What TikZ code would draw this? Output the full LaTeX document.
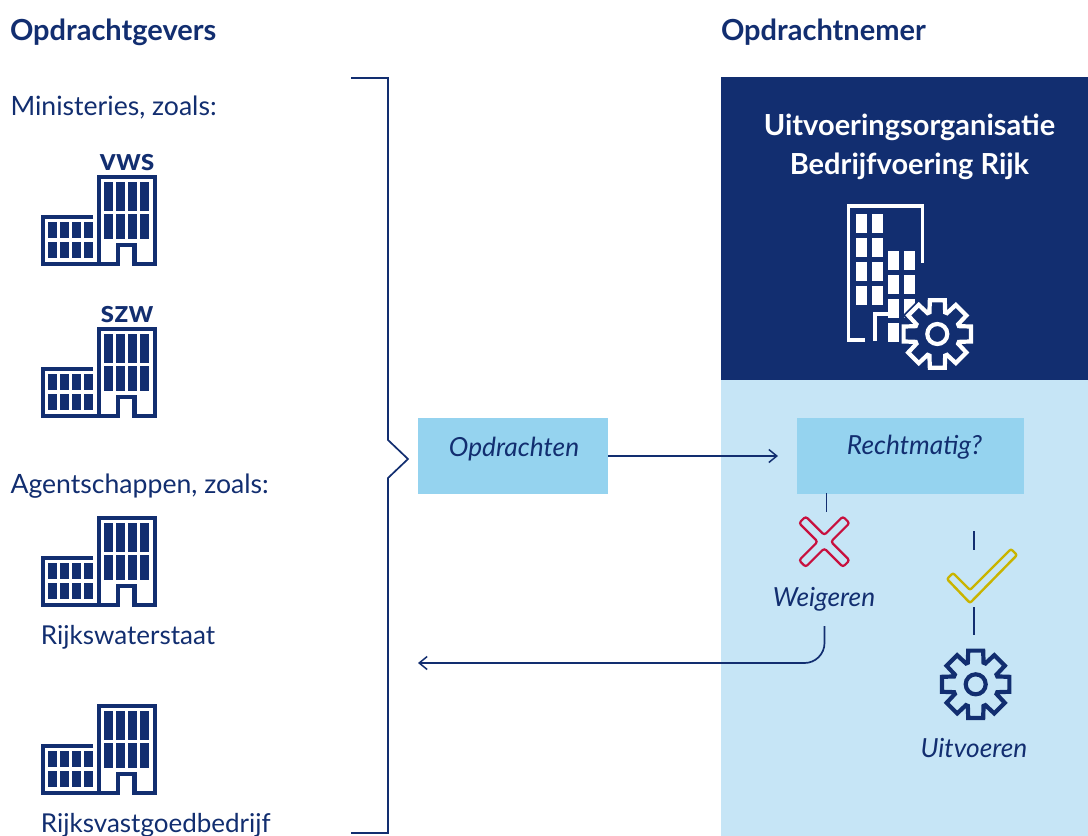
\documentclass[tikz,border=0pt]{standalone}
\usepackage{fontspec}
\setmainfont{Lato}
\definecolor{navy}{HTML}{122E70}
\definecolor{panel}{HTML}{C6E5F6}
\definecolor{boxblue}{HTML}{95D3EF}
\definecolor{crossred}{HTML}{C8103E}
\definecolor{checkyellow}{HTML}{C9B400}
\usetikzlibrary{arrows.meta}
\tikzset{
  lab/.style={inner sep=0pt,outer sep=0pt,text=navy,anchor=base west},
  head/.style={lab,font=\fontsize{29}{32}\selectfont\bfseries},
  body/.style={lab,font=\fontsize{26.6}{30}\selectfont},
  small/.style={lab,font=\fontsize{26}{30}\selectfont},
  ital/.style={inner sep=0pt,text=navy,anchor=base,font=\fontsize{26.3}{30}\selectfont\itshape},
  acro/.style={inner sep=0pt,text=navy,anchor=base,font=\fontsize{31}{32}\selectfont\bfseries},
  conn/.style={draw=navy,line width=1.7pt},
  arrow/.style={conn,-{Straight Barb[length=8pt,width=13pt,line width=1.5pt]}},
  boxn/.style={fill=boxblue,inner sep=0pt,outer sep=0pt,anchor=north west},
  bline/.style={draw=navy,line width=4.2pt,line cap=butt,line join=miter},
  win/.style={fill=navy},
}
% building icon, drawn at the position of the first one; #1 = y shift
\newcommand{\officeicon}[1]{%
  \begin{scope}[yshift=#1*-1pt]
    \draw[bline] (93,216.7) -- (42.7,216.7) -- (42.7,264.3) -- (117.7,264.3) -- (117.7,244.7) -- (134.5,244.7) -- (134.5,264.3) -- (155.2,264.3) -- (155.2,176.7) -- (98.7,176.7) -- (98.7,264.3);
    \foreach \x in {104,116,128,140}{
      \fill[win] (\x,181.7) rectangle ++(9.3,29);
      \fill[win] (\x,213.7) rectangle ++(9.3,25.6);
    }
    \foreach \x in {48,60,72,84}{
      \fill[win] (\x,221.7) rectangle ++(8.7,16.6);
      \fill[win] (\x,241.7) rectangle ++(8.7,16.6);
    }
  \end{scope}}
% gear: #1 centre, #2 options
\newcommand{\cog}[2]{%
  \begin{scope}[shift={#1}]
    \draw[#2] (-12.5:34.5) \foreach \a in {0,45,...,315}{
      -- (\a-12.5:34.5) -- (\a+12.5:34.5) -- (\a+20:23) -- (\a+25:23)} -- cycle;
    \draw[#2] (0,0) circle[radius=10pt];
  \end{scope}}
\begin{document}
\begin{tikzpicture}[x=1pt,y=-1pt]
\useasboundingbox (0,0) rectangle (1088,836);
\fill[white] (0,0) rectangle (1088,836);
% panels
\fill[navy] (721,77) rectangle (1088,380);
\fill[panel] (721,380) rectangle (1088,836);
% headings
\node[head] (tl) at (10,40) {Opdrachtgevers};
\node[head] (tr) at (721,40) {Opdrachtnemer};
\node[body] (min) at (10.5,115) {Ministeries, zoals:};
\node[body] (agt) at (10.5,493) {Agentschappen, zoals:};
% buildings
\officeicon{0}
\officeicon{152}
\officeicon{341}
\officeicon{529}
\node[acro] (vws) at (127,170) {vws};
\node[acro] (szw) at (127,322) {szw};
\node[small] (rws) at (41,644) {Rijkswaterstaat};
\node[small] (rvb) at (41,832) {Rijksvastgoedbedrijf};
% bracket
\coordinate (bt) at (351,78);
\coordinate (bb) at (351,833);
\coordinate (bp) at (408,459);
\draw[conn] (bt) -- (388,78) -- (388,440) -- (bp) -- (388,478) -- (388,833) -- (bb);
% boxes
\node[boxn,minimum width=190pt,minimum height=76pt] (opd) at (418,418) {};
\node[ital] (opdt) at (514,456) {Opdrachten};
\node[boxn,minimum width=227pt,minimum height=76pt] (rec) at (797,418) {};
\node[ital] (rect) at (914.5,454) {Rechtmatig?};
% title
\node[inner sep=0pt,text=white,align=center,anchor=north,font=\fontsize{29}{38.5}\selectfont\bfseries] (title) at (909.5,114) {Uitvoeringsorganisatie\\Bedrijfvoering Rijk};
% big building
\draw[white,line width=3.5pt] (865,340) -- (848.5,340) -- (848.5,206) -- (922.3,206) -- (922.3,262.7);
\draw[white,line width=3.5pt] (875,341) -- (875,314) -- (890,314);
\foreach \x in {856,872.3}\foreach \y in {214,238,262,286.3}{\fill[white] (\x,\y) rectangle ++(10.7,18.7);}
\foreach \x in {888.3,904}\foreach \y in {251,275,299,323.3}{\fill[white] (\x,\y) rectangle ++(10.7,18.7);}
\cog{(937.3,334)}{fill=navy,draw=navy,line width=8pt,line join=miter}
\cog{(937.3,334)}{fill=navy,draw=white,line width=4.2pt,line join=miter}
% connectors
\coordinate (opdgoal) at (778,456);
\draw[arrow] (opd.east) -- (opdgoal);
\coordinate (t1) at (826.5,493);
\coordinate (t2) at (826.5,512);
\draw[conn] (t1) -- (t2);
% cross
\draw[crossred,line width=2.2pt,rounded corners=2.5pt,shift={(824.3,541.7)},rotate=45]
  (-4.7,-31) -- (4.7,-31) -- (4.7,-4.7) -- (31,-4.7) -- (31,4.7) -- (4.7,4.7) -- (4.7,31) -- (-4.7,31) -- (-4.7,4.7) -- (-31,4.7) -- (-31,-4.7) -- (-4.7,-4.7) -- cycle;
\node[ital] (wei) at (824,606) {Weigeren};
\coordinate (w1) at (824.5,626);
\coordinate (w2) at (418,663);
\coordinate (wc) at (824.5,663);
\draw[arrow,rounded corners=20pt] (w1) -- (wc) -- (w2);
% check
\coordinate (c1) at (974,531);
\coordinate (c2) at (974,550);
\draw[conn] (c1) -- (c2);
\draw[checkyellow,line width=2.4pt,rounded corners=2pt] (953,573) -- (970,590) -- (1011,549) -- (1017,555) -- (970,603) -- (947,579) -- cycle;
\coordinate (c3) at (974,607);
\coordinate (c4) at (974,635);
\draw[conn] (c3) -- (c4);
\cog{(975.7,684.3)}{draw=navy,line width=4.2pt,line join=miter}
\node[ital] (uit) at (974,757) {Uitvoeren};
\end{tikzpicture}
\end{document}
